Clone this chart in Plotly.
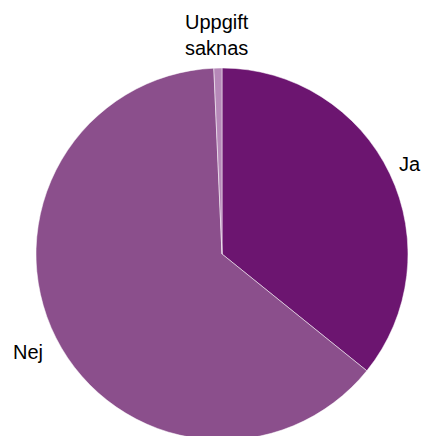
import math
import plotly.graph_objects as go

labels = ["Ja", "Nej", "Uppgift<br>saknas"]
values = [35.8, 63.5, 0.7]
colors = ["#6C1570", "#8B4F8C", "#B688B8"]

# distance of each label centre from pie centre, as a multiple of the radius
label_dist = [1.118, 1.17, 1.18]

fig = go.Figure(go.Pie(
    labels=labels,
    values=values,
    sort=False,
    direction="clockwise",
    rotation=0,
    marker=dict(colors=colors, line=dict(color="white", width=0.5)),
    textinfo="none",
    automargin=False,
    showlegend=False,
    hoverinfo="label+percent",
    domain=dict(x=[0, 1], y=[0, 1]),
))

total = sum(values)
cum = 0.0
for lab, v, f in zip(labels, values, label_dist):
    mid = (cum + v / 2) / total * 2 * math.pi
    cum += v
    fig.add_annotation(
        x=0.5 + 0.5 * f * math.sin(mid),
        y=0.5 + 0.5 * f * math.cos(mid),
        xref="paper", yref="paper",
        text=lab, showarrow=False,
        xanchor="center", yanchor="middle",
        font=dict(family="Liberation Sans, Arial, sans-serif", size=20, color="black"),
    )

fig.update_layout(
    width=422, height=444,
    margin=dict(l=36, r=14, t=68, b=4),
    paper_bgcolor="white",
    plot_bgcolor="white",
)
fig.write_html("out.html", config={"displayModeBar": False},
               post_script="document.body.style.overflow='hidden';document.body.style.margin='0';")
